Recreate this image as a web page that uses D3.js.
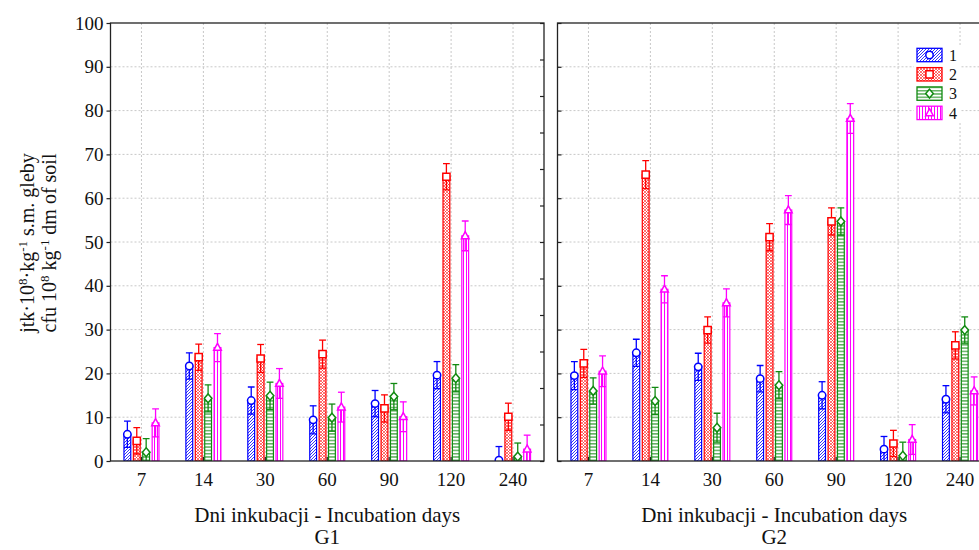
<!DOCTYPE html>
<html>
<head>
<meta charset="utf-8">
<script src="https://cdn.jsdelivr.net/npm/d3@7"></script>
<style>
  body { margin: 0; background: #fff; }
  svg { display: block; }
  text { font-family: "Liberation Serif", "Times New Roman", serif; }
</style>
</head>
<body>
<svg id="chart" width="979" height="550"></svg>
<script>
// Incubation days (x categories) and series labels
const days = ["7", "14", "30", "60", "90", "120", "240"];
const seriesNames = ["1", "2", "3", "4"];
const yTicks = [0, 10, 20, 30, 40, 50, 60, 70, 80, 90, 100];

// G1: means per series (rows) and incubation day (columns), cfu 10^8 kg^-1
const g1Series1 = [6.1, 21.7, 13.8, 9.4, 13.1, 19.6, 0.2];
const g1Series2 = [4.6, 23.7, 23.4, 24.4, 12.0, 64.9, 10.1];
const g1Series3 = [2.0, 14.3, 14.9, 9.9, 14.7, 18.9, 1.0];
const g1Series4 = [8.7, 25.9, 17.7, 12.3, 10.1, 51.4, 2.7];
// G1: error half-widths
const g1Err1 = [3.0, 3.0, 3.1, 3.2, 3.0, 3.1, 3.1];
const g1Err2 = [3.0, 3.0, 3.2, 3.2, 3.1, 3.0, 3.1];
const g1Err3 = [3.1, 3.1, 3.1, 3.1, 3.0, 3.1, 3.1];
const g1Err4 = [3.2, 3.2, 3.4, 3.4, 3.4, 3.4, 3.2];

// G2: means
const g2Series1 = [19.5, 24.7, 21.5, 18.8, 15.0, 2.7, 14.1];
const g2Series2 = [22.3, 65.4, 29.9, 51.1, 54.7, 4.0, 26.4];
const g2Series3 = [16.0, 13.7, 7.6, 17.3, 54.7, 1.2, 29.9];
const g2Series4 = [20.5, 39.2, 36.1, 57.3, 78.2, 4.9, 16.0];
// G2: error half-widths
const g2Err1 = [3.2, 3.1, 3.1, 3.0, 3.1, 2.9, 3.1];
const g2Err2 = [3.2, 3.2, 3.0, 3.1, 3.1, 3.0, 3.1];
const g2Err3 = [3.0, 3.1, 3.3, 3.1, 3.1, 3.1, 3.0];
const g2Err4 = [3.5, 3.1, 3.2, 3.3, 3.4, 3.4, 3.2];

const colors = ["#0000ff", "#ff0000", "#118a11", "#ff00ff"];
const markerTypes = ["circle", "square", "diamond", "triangle"];

const svg = d3.select("#chart");
const plotTop = 23, plotBottom = 461;
const panelW = 433.5;
const tickFont = 19, titleFont = 21;
const y = d3.scaleLinear().domain([0, 100]).range([plotBottom, plotTop]);

// hatch patterns for the four series
const defs = svg.append("defs");
function pattern(id, w, h, draw) {
  const p = defs.append("pattern").attr("id", id)
    .attr("patternUnits", "userSpaceOnUse").attr("width", w).attr("height", h);
  p.append("rect").attr("width", w).attr("height", h).attr("fill", "#fff");
  draw(p);
}
pattern("hatch1", 3, 3, p => p.append("path")
  .attr("d", "M-1,1 L1,-1 M0,3 L3,0 M2,4 L4,2")
  .attr("stroke", colors[0]).attr("stroke-width", 0.8));
pattern("hatch2", 3, 3, p => p.append("path")
  .attr("d", "M-1,1 L1,-1 M0,3 L3,0 M2,4 L4,2 M-1,2 L1,4 M0,0 L3,3 M2,-1 L4,1")
  .attr("stroke", colors[1]).attr("stroke-width", 0.55));
pattern("hatch3", 4, 3.3, p => p.append("line")
  .attr("x1", 0).attr("x2", 4).attr("y1", 1.6).attr("y2", 1.6)
  .attr("stroke", colors[2]).attr("stroke-width", 1));
pattern("hatch4", 3, 4, p => p.append("line")
  .attr("x1", 1.5).attr("x2", 1.5).attr("y1", 0).attr("y2", 4)
  .attr("stroke", colors[3]).attr("stroke-width", 1));

function markerPath(type, cx, cy) {
  switch (type) {
    case "square": return `M${cx - 3.6},${cy - 3.6}h7.2v7.2h-7.2Z`;
    case "diamond": return `M${cx},${cy - 4.4}L${cx + 3.8},${cy}L${cx},${cy + 4.4}L${cx - 3.8},${cy}Z`;
    case "triangle": return `M${cx},${cy - 4.2}L${cx + 3.8},${cy + 2.8}L${cx - 3.8},${cy + 2.8}Z`;
  }
  return null;
}
function drawMarker(g, type, cx, cy, color) {
  if (type === "circle") {
    g.append("circle").attr("cx", cx).attr("cy", cy).attr("r", 3.7)
      .attr("fill", "#fff").attr("stroke", color).attr("stroke-width", 1.5);
  } else {
    g.append("path").attr("d", markerPath(type, cx, cy))
      .attr("fill", "#fff").attr("stroke", color).attr("stroke-width", 1.5);
  }
}

function drawPanel(x0, values, errors, groupLabel, idx) {
  const g = svg.append("g");
  const x = d3.scaleBand().domain(days).range([x0, x0 + panelW]);
  const x1 = d3.scaleBand().domain(d3.range(seriesNames.length)).range([-18.8, 18.8]);
  const barW = 6.8;
  const cx = (d) => x(d) + x.bandwidth() / 2;

  g.append("clipPath").attr("id", "clip" + idx).append("rect")
    .attr("x", x0).attr("y", plotTop).attr("width", panelW).attr("height", plotBottom - plotTop);

  // grid
  const grid = g.append("g").attr("stroke", "#c8c8c8").attr("stroke-dasharray", "2,2").attr("stroke-width", 1);
  grid.selectAll("line.h").data(yTicks.filter(t => t > 0 && t < 100)).join("line")
    .attr("class", "h")
    .attr("x1", x0).attr("x2", x0 + panelW).attr("y1", d => y(d)).attr("y2", d => y(d));
  grid.selectAll("line.v").data(days).join("line")
    .attr("class", "v")
    .attr("x1", cx).attr("x2", cx).attr("y1", plotTop).attr("y2", plotBottom);

  // bars with error bars
  const plot = g.append("g").attr("clip-path", `url(#clip${idx})`);
  values.forEach((vals, s) => {
    vals.forEach((v, i) => {
      const d = days[i];
      const c = cx(d) + x1(s) + x1.bandwidth() / 2;
      const e = errors[s][i];
      const col = colors[s];
      const bg = plot.append("g");
      bg.append("rect").attr("x", c - barW / 2).attr("y", y(v))
        .attr("width", barW).attr("height", y(0) - y(v))
        .attr("fill", `url(#hatch${s + 1})`).attr("stroke", col).attr("stroke-width", 1.2);
      bg.append("line").attr("x1", c).attr("x2", c).attr("y1", y(v + e)).attr("y2", y(v - e))
        .attr("stroke", col).attr("stroke-width", 1.3);
      [v + e, v - e].forEach(w => bg.append("line")
        .attr("x1", c - barW / 2).attr("x2", c + barW / 2).attr("y1", y(w)).attr("y2", y(w))
        .attr("stroke", col).attr("stroke-width", 1.3));
      drawMarker(bg, markerTypes[s], c, y(v), col);
    });
  });

  // frame
  g.append("rect").attr("x", x0).attr("y", plotTop).attr("width", panelW).attr("height", plotBottom - plotTop)
    .attr("fill", "none").attr("stroke", "#222").attr("stroke-width", 1.3);

  // x axis (ticks point inward)
  const xa = g.append("g").attr("transform", `translate(0,${plotBottom})`)
    .call(d3.axisBottom(x).tickSizeInner(-4).tickSizeOuter(0).tickPadding(12));
  xa.select(".domain").remove();
  xa.selectAll("line").attr("stroke", "#222").attr("stroke-width", 1.2);
  xa.selectAll("text").attr("font-size", tickFont).attr("fill", "#111")
    .attr("font-family", "Liberation Serif, serif");

  g.append("text").attr("x", x0 + panelW / 2).attr("y", 522).attr("text-anchor", "middle")
    .attr("font-size", titleFont).attr("fill", "#111").text("Dni inkubacji - Incubation days");
  g.append("text").attr("x", x0 + panelW / 2).attr("y", 544).attr("text-anchor", "middle")
    .attr("font-size", titleFont).attr("fill", "#111").text(groupLabel);
  return g;
}

const leftX0 = 110.5, rightX0 = 557.5;
drawPanel(leftX0, [g1Series1, g1Series2, g1Series3, g1Series4],
  [g1Err1, g1Err2, g1Err3, g1Err4], "G1", 1);
drawPanel(rightX0, [g2Series1, g2Series2, g2Series3, g2Series4],
  [g2Err1, g2Err2, g2Err3, g2Err4], "G2", 2);

// left y axis with labels (ticks outward)
const ya = svg.append("g").attr("transform", `translate(${leftX0},0)`)
  .call(d3.axisLeft(y).tickValues(yTicks).tickSizeInner(4).tickSizeOuter(0).tickPadding(3));
ya.select(".domain").remove();
ya.selectAll("line").attr("stroke", "#222").attr("stroke-width", 1.2);
ya.selectAll("text").attr("font-size", tickFont).attr("fill", "#111")
  .attr("font-family", "Liberation Serif, serif");

// right edge of the G1 panel: twelve inward ticks
const y12 = d3.scaleLinear().domain([0, 12]).range([plotBottom, plotTop]);
const yr = svg.append("g").attr("transform", `translate(${leftX0 + panelW},0)`)
  .call(d3.axisLeft(y12).ticks(12).tickSizeInner(4).tickSizeOuter(0).tickFormat(""));
yr.select(".domain").remove();
yr.selectAll("line").attr("stroke", "#222").attr("stroke-width", 1.2);

// left edge of the G2 panel: inward ticks at the value grid
const yl2 = svg.append("g").attr("transform", `translate(${rightX0},0)`)
  .call(d3.axisRight(y).tickValues(yTicks).tickSizeInner(4).tickSizeOuter(0).tickFormat(""));
yl2.select(".domain").remove();
yl2.selectAll("line").attr("stroke", "#222").attr("stroke-width", 1.2);

// y axis title, two lines with superscripts
const yTitle = svg.append("text").attr("transform", "translate(0,243) rotate(-90)")
  .attr("text-anchor", "middle").attr("font-size", 20).attr("fill", "#111");
function titleLine(xPos, parts) {
  const t = yTitle.append("tspan").attr("x", 0).attr("y", xPos);
  let raised = false;
  parts.forEach(([str, sup]) => {
    const ts = t.append("tspan").text(str);
    if (sup && !raised) { ts.attr("dy", -7).attr("font-size", 13); raised = true; }
    else if (sup) { ts.attr("font-size", 13); }
    else if (!sup && raised) { ts.attr("dy", 7); raised = false; }
  });
}
titleLine(34, [["jtk·10", false], ["8", true], ["·kg", false], ["-1", true], [" s.m. gleby", false]]);
titleLine(56, [["cfu 10", false], ["8", true], [" kg", false], ["-1", true], [" dm of soil", false]]);

// legend
const legend = svg.append("g");
legend.append("rect").attr("x", 914).attr("y", 45).attr("width", 47).attr("height", 78).attr("fill", "#fff");
seriesNames.forEach((name, s) => {
  const yy = 48.3 + s * 19.3;
  const lg = legend.append("g");
  lg.append("rect").attr("x", 917).attr("y", yy).attr("width", 25).attr("height", 13.4)
    .attr("fill", `url(#hatch${s + 1})`).attr("stroke", colors[s]).attr("stroke-width", 1.3);
  drawMarker(lg, markerTypes[s], 929.5, yy + 6.7, colors[s]);
  lg.append("text").attr("x", 949).attr("y", yy + 12.5).attr("font-size", 16)
    .attr("font-family", "Liberation Sans, Arial, sans-serif").attr("fill", "#111").text(name);
});
</script>
</body>
</html>
